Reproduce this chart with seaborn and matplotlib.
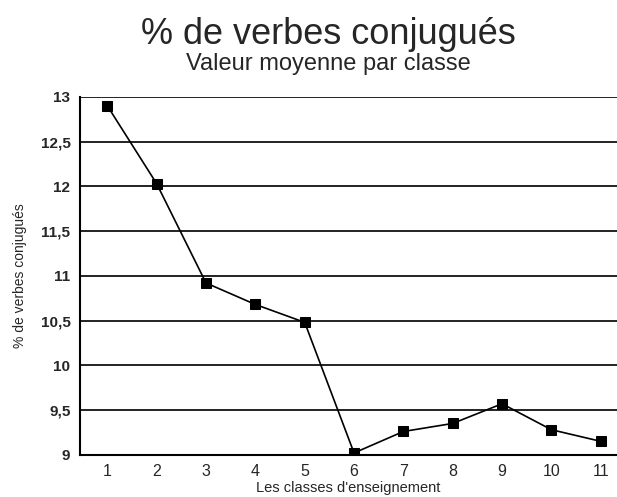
import matplotlib
matplotlib.use("Agg")
import matplotlib.pyplot as plt
import seaborn as sns
import pandas as pd

# Valeurs
classes = [1, 2, 3, 4, 5, 6, 7, 8, 9, 10, 11]
pct_verbes = [12.90, 12.03, 10.92, 10.68, 10.48, 9.02, 9.26, 9.35, 9.57, 9.28, 9.15]
x_labels = ["1", "2", "3", "4", "5", "6", "7", "8", "9", "10", "11"]
y_ticks = [9, 9.5, 10, 10.5, 11, 11.5, 12, 12.5, 13]
y_labels = ["9", "9,5", "10", "10,5", "11", "11,5", "12", "12,5", "13"]

df = pd.DataFrame({"classe": classes, "pct": pct_verbes})

sns.set_theme(style="white")
plt.rcParams["font.family"] = ["Liberation Sans", "DejaVu Sans"]

fig = plt.figure(figsize=(6.17, 4.97), dpi=100)
ax = fig.add_axes([0.13, 0.085, 0.87, 0.72])

for yv in y_ticks:
    ax.axhline(yv, color="#111111", lw=1.3, zorder=1)

sns.lineplot(data=df, x="classe", y="pct", ax=ax, color="black", lw=1.2,
             marker="s", markersize=7.5, markeredgecolor="black", zorder=3)

ax.set_xlim(0.45, 11.33)
ax.set_ylim(9, 13)
ax.set_xticks(classes)
ax.set_xticklabels(x_labels, fontsize=11.5)
ax.set_yticks(y_ticks)
ax.set_yticklabels(y_labels, fontsize=11, fontweight="bold")
ax.tick_params(axis="x", direction="out", length=3, width=1, color="black", pad=4)
ax.tick_params(axis="y", direction="out", length=5, width=1, color="black", pad=2)
for side in ["top", "right"]:
    ax.spines[side].set_visible(False)
for side in ["left", "bottom"]:
    ax.spines[side].set_color("black")
    ax.spines[side].set_linewidth(1.5)

ax.set_xlabel("Les classes d'enseignement", fontsize=10.5, labelpad=1)
ax.set_ylabel("% de verbes conjugués", fontsize=10, labelpad=10)

fig.text(0.533, 0.93, "% de verbes conjugués", ha="center", va="center", fontsize=26)
fig.text(0.533, 0.872, "Valeur moyenne par classe", ha="center", va="center", fontsize=17)

fig.savefig("out.png", dpi=100)
